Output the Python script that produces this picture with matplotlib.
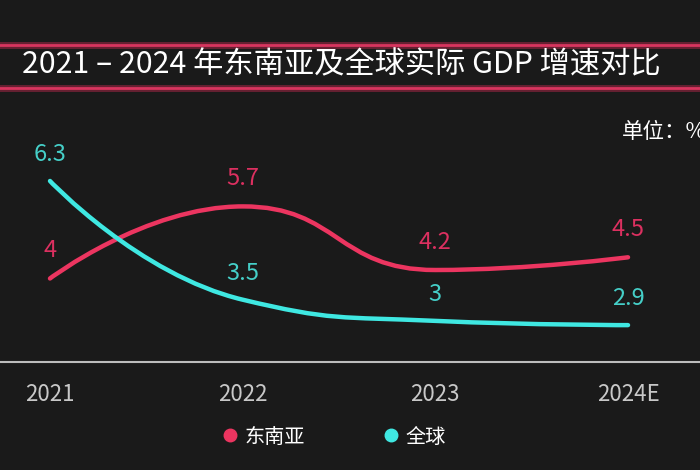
import numpy as np
import matplotlib.pyplot as plt
from matplotlib.path import Path
from matplotlib.patches import PathPatch
from matplotlib.lines import Line2D

plt.rcParams['font.family'] = ['Noto Sans CJK SC', 'DejaVu Sans']

years = ["2021", "2022", "2023", "2024E"]
sea = [4, 5.7, 4.2, 4.5]        # 东南亚
world = [6.3, 3.5, 3, 2.9]      # 全球

BG = "#1a1a1a"
PINK = "#ec3560"
CYAN = "#3fe8e2"
PINK_TXT = "#dc3060"
CYAN_TXT = "#45cfc8"


def smooth_path(xs, ys, smooth=0.5):
    # bezier smoothing through the points, control points kept inside
    # the neighbours' y range so there is no overshoot
    pts = np.column_stack([xs, ys]).astype(float)
    n = len(pts)
    cps = []
    for i in range(n):
        if i == 0 or i == n - 1:
            cps.append((pts[i].copy(), pts[i].copy()))
            continue
        v = pts[i + 1] - pts[i - 1]
        d0 = np.linalg.norm(pts[i] - pts[i - 1])
        d1 = np.linalg.norm(pts[i + 1] - pts[i])
        r0 = smooth * d0 / (d0 + d1)
        r1 = smooth * d1 / (d0 + d1)
        k = 1.0
        for r, nb in [(-r0, pts[i - 1][1]), (r1, pts[i + 1][1])]:
            dy = v[1] * r
            lim = nb - pts[i][1]
            if dy == 0:
                continue
            if np.sign(dy) != np.sign(lim):
                k = 0.0
            elif abs(dy) > abs(lim):
                k = min(k, abs(lim) / abs(dy))
        vy = np.array([v[0], v[1] * k])
        cps.append((pts[i] - vy * r0, pts[i] + vy * r1))
    verts = [pts[0]]
    codes = [Path.MOVETO]
    for i in range(n - 1):
        verts += [cps[i][1], cps[i + 1][0], pts[i + 1]]
        codes += [Path.CURVE4] * 3
    return Path(verts, codes)


fig = plt.figure(figsize=(7, 4.7), dpi=100, facecolor=BG)
ax = fig.add_axes([0, (470 - 362) / 470, 1, (362 - 100) / 470])
ax.set_facecolor(BG)

x = np.arange(len(years))
ax.set_xlim(-50 / 192.7, 3 + 72 / 192.7)
ax.set_ylim(2.03, 8.21)

# smoothing distances measured in pixel-like units
sx = 192.7 / 42.4
for vals, col in [(sea, PINK), (world, CYAN)]:
    p = smooth_path(x * sx, vals)
    p = Path(np.column_stack([p.vertices[:, 0] / sx, p.vertices[:, 1]]), p.codes)
    ax.add_patch(PathPatch(p, facecolor="none", edgecolor=col, lw=3.2,
                           capstyle="round", zorder=3))

for xi, v in zip(x, sea):
    ax.annotate(f"{v:g}", (xi, v), xytext=(0, 20), textcoords="offset points",
                ha="center", va="center", color=PINK_TXT, fontsize=17)
for xi, v in zip(x, world):
    ax.annotate(f"{v:g}", (xi, v), xytext=(0, 19), textcoords="offset points",
                ha="center", va="center", color=CYAN_TXT, fontsize=17)

for s in ["top", "left", "right"]:
    ax.spines[s].set_visible(False)
ax.spines["bottom"].set_color("#bdbdbd")
ax.spines["bottom"].set_linewidth(1.5)
ax.set_yticks([])
ax.set_xticks(x)
ax.set_xticklabels(years)
ax.tick_params(axis="x", length=0, pad=15, labelsize=16, labelcolor="#c8c8c8")

# title band
for yy in [45, 88]:
    fy = 1 - yy / 470
    fig.add_artist(Line2D([0, 1], [fy, fy], transform=fig.transFigure,
                          color="#7a2238", lw=5, alpha=0.8))
    fig.add_artist(Line2D([0, 1], [fy, fy], transform=fig.transFigure,
                          color="#d8355f", lw=2))
fig.text(22 / 700, 1 - 65 / 470, "2021 – 2024 年东南亚及全球实际 GDP 增速对比",
         color="white", fontsize=21.8, ha="left", va="center")
fig.text(622 / 700, 1 - 132 / 470, "单位：%", color="white", fontsize=15.5,
         ha="left", va="center")

handles = [Line2D([], [], marker="o", ls="none", color=PINK, markersize=9),
           Line2D([], [], marker="o", ls="none", color=CYAN, markersize=9)]
fig.legend(handles, ["东南亚", "全球"], loc="center", ncol=2,
           bbox_to_anchor=(333 / 700, 1 - 437 / 470), frameon=False,
           labelcolor="white", fontsize=14.5, handletextpad=0.2,
           columnspacing=3.8, handlelength=1)

fig.savefig("out.png", dpi=100, facecolor=BG)
